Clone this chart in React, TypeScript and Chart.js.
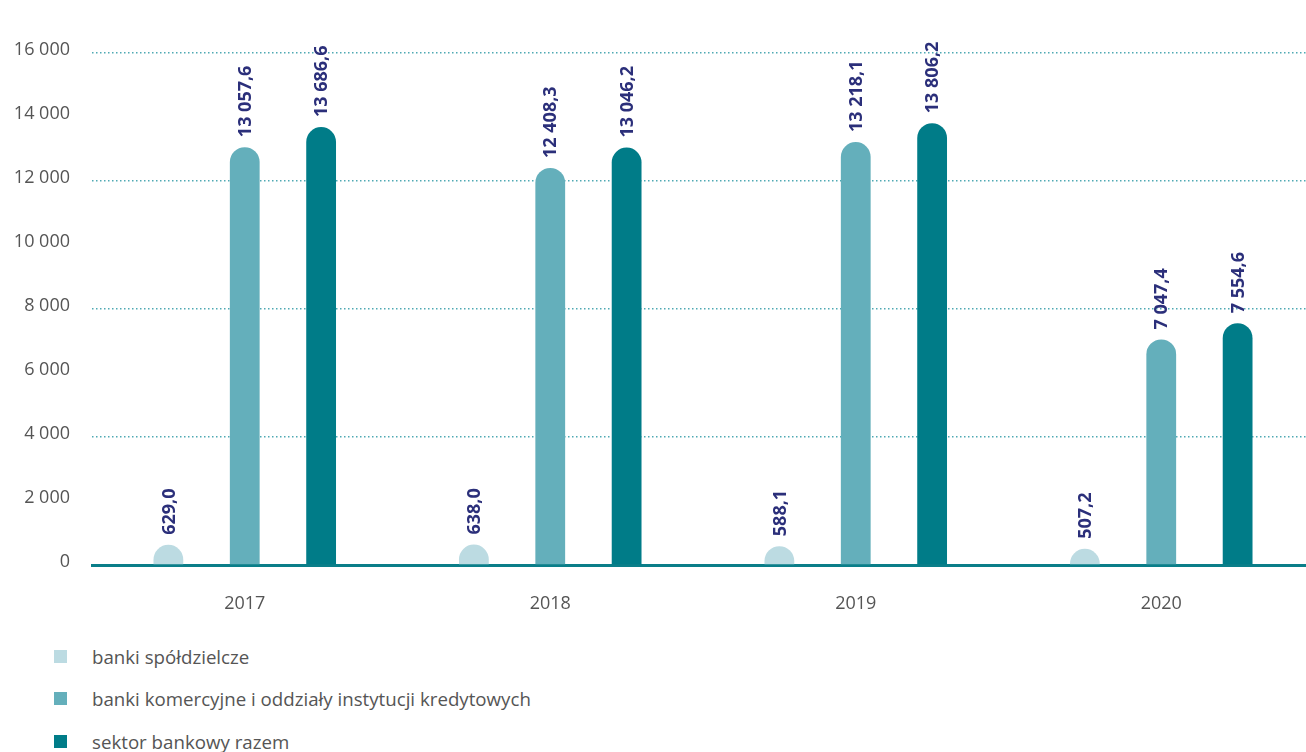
import React, { useEffect, useRef } from "react";
import { Chart, registerables, BarController, BarElement } from "chart.js";

Chart.register(...registerables);

const categories = ["2017", "2018", "2019", "2020"];
const seriesNames = [
  "banki spółdzielcze",
  "banki komercyjne i oddziały instytucji kredytowych",
  "sektor bankowy razem",
];
const bankiSpoldzielcze = [629.0, 638.0, 588.1, 507.2];
const bankiKomercyjne = [13057.6, 12408.3, 13218.1, 7047.4];
const sektorRazem = [13686.6, 13046.2, 13806.2, 7554.6];
const seriesColors = ["#bcdbe2", "#64afbb", "#007c88"];

const yMin = 0;
const yMax = 16000;
const yStep = 2000;

function fmtThousands(v: number): string {
  return String(Math.round(v)).replace(/\B(?=(\d{3})+(?!\d))/g, " ");
}
function fmtValue(v: number): string {
  const [i, d] = v.toFixed(1).split(".");
  return i.replace(/\B(?=(\d{3})+(?!\d))/g, " ") + "," + d;
}

// Bar element with a full half-circle top (radius = half bar width)
class DomeBarElement extends BarElement {
  static id = "domeBarElement";
  static defaults = { ...(BarElement as any).defaults };
  draw(ctx: CanvasRenderingContext2D) {
    const { x, y, base, width } = (this as any).getProps(["x", "y", "base", "width"]);
    const opts = (this as any).options;
    const half = width / 2;
    const left = x - half;
    const right = x + half;
    const top = Math.min(y, base);
    const bottom = Math.max(y, base);
    const h = bottom - top;
    ctx.save();
    ctx.fillStyle = opts.backgroundColor;
    ctx.beginPath();
    if (h >= half) {
      ctx.moveTo(left, bottom);
      ctx.lineTo(left, top + half);
      ctx.arc(x, top + half, half, Math.PI, 0);
      ctx.lineTo(right, bottom);
    } else {
      ctx.moveTo(left, bottom);
      ctx.ellipse(x, bottom, half, h, 0, Math.PI, 0);
    }
    ctx.closePath();
    ctx.fill();
    ctx.restore();
  }
}

class DomeBarController extends BarController {
  static id = "domeBar";
  static defaults = { ...(BarController as any).defaults, dataElementType: "domeBarElement" };
  static overrides = (BarController as any).overrides;
}

Chart.register(DomeBarElement as any, DomeBarController as any);

const valueLabels = {
  id: "valueLabels",
  afterDatasetsDraw(chart: any) {
    const ctx = chart.ctx;
    ctx.save();
    ctx.fillStyle = "#2b2f7a";
    ctx.font = "bold 18px 'Open Sans'";
    ctx.textAlign = "left";
    ctx.textBaseline = "middle";
    chart.data.datasets.forEach((ds: any, di: number) => {
      const meta = chart.getDatasetMeta(di);
      meta.data.forEach((el: any, i: number) => {
        const v = ds.data[i];
        ctx.save();
        ctx.translate(el.x, el.y - 10);
        ctx.rotate(-Math.PI / 2);
        ctx.fillText(fmtValue(v), 0, 1);
        ctx.restore();
      });
    });
    ctx.restore();
  },
};

export default function App() {
  const canvasRef = useRef<HTMLCanvasElement | null>(null);

  useEffect(() => {
    if (!canvasRef.current) return;
    const seriesData = [bankiSpoldzielcze, bankiKomercyjne, sektorRazem];
    const chart = new Chart(canvasRef.current, {
      type: "domeBar" as any,
      data: {
        labels: categories,
        datasets: seriesData.map((d, i) => ({
          label: seriesNames[i],
          data: d,
          backgroundColor: seriesColors[i],
          categoryPercentage: 0.75,
          barPercentage: 0.39,
        })),
      },
      options: {
        animation: false,
        responsive: true,
        maintainAspectRatio: false,
        layout: { padding: { top: 53, left: 12, right: 6, bottom: 0 } },
        plugins: {
          legend: { display: false },
          tooltip: { enabled: false },
        },
        scales: {
          x: {
            type: "category",
            offset: true,
            grid: { display: false, drawTicks: false, offset: true },
            border: { display: true, color: "#0a7e89", width: 3 },
            ticks: {
              color: "#555555",
              font: { family: "'Open Sans'", size: 18 },
              padding: 28,
            },
            afterFit: (scale: any) => {
              scale.height = 55;
            },
          },
          y: {
            type: "linear",
            min: yMin,
            max: yMax,
            grid: {
              drawTicks: false,
              lineWidth: 1.5,
              color: (c: any) =>
                c.tick && c.tick.value > 0 && c.tick.value % 4000 === 0
                  ? "#4fa9b3"
                  : "rgba(0,0,0,0)",
            },
            border: { display: false, dash: [1.5, 2.5] },
            ticks: {
              stepSize: yStep,
              color: "#555555",
              font: { family: "'Open Sans'", size: 18 },
              padding: 22,
              labelOffset: -3,
              callback: (v: any) => fmtThousands(Number(v)),
            },
            afterFit: (scale: any) => {
              scale.width = 80;
            },
          },
        },
      } as any,
      plugins: [valueLabels],
    });
    return () => chart.destroy();
  }, []);

  const legendItem = (i: number, top: number) => (
    <div
      key={i}
      style={{
        position: "absolute",
        left: 54,
        top: top - 13,
        height: 26,
        display: "flex",
        alignItems: "center",
        whiteSpace: "nowrap",
      }}
    >
      <span
        style={{
          display: "inline-block",
          width: 13,
          height: 13,
          background: seriesColors[i],
          marginRight: 25,
        }}
      />
      <span style={{ font: "18.7px 'Open Sans'", color: "#555555" }}>{seriesNames[i]}</span>
    </div>
  );

  return (
    <div
      style={{
        position: "fixed",
        left: 0,
        top: 0,
        width: 1306,
        height: 752,
        overflow: "hidden",
        background: "#ffffff",
      }}
    >
      <div style={{ position: "absolute", left: 0, top: 0, width: 1320, height: 620 }}>
        <canvas ref={canvasRef} />
      </div>
      {legendItem(0, 656)}
      {legendItem(1, 698)}
      {legendItem(2, 741)}
    </div>
  );
}
